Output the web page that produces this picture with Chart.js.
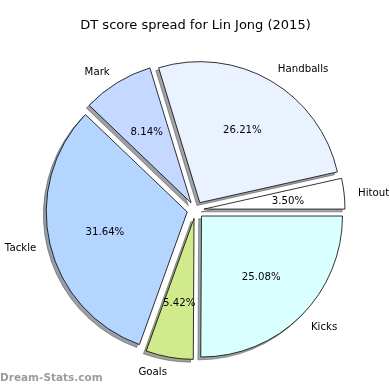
<!DOCTYPE html>
<html>
<head>
<meta charset="utf-8">
<script src="https://cdn.jsdelivr.net/npm/chart.js@4"></script>
<style>
  body { margin: 0; background: #fff; }
  canvas { display: block; }
</style>
</head>
<body>
<canvas id="myChart" width="390" height="390"></canvas>
<script>
// slice order follows the chart going clockwise from 3 o'clock
const categories = ["Kicks", "Goals", "Tackle", "Mark", "Handballs", "Hitout"];
const shares = [25.08, 5.42, 31.64, 8.14, 26.21, 3.5];
const sliceColors = ["#d9ffff", "#d1eb8c", "#b4d5ff", "#c5d8ff", "#eaf1ff", "#ffffff"];

const EXPLODE = 8.5;
const FONT = "'DejaVu Sans', sans-serif";

function shadowOf(hex) {
  var r = parseInt(hex.slice(1, 3), 16) * 0.3;
  var g = parseInt(hex.slice(3, 5), 16) * 0.3;
  var b = parseInt(hex.slice(5, 7), 16) * 0.3;
  return "rgba(" + Math.round(r) + "," + Math.round(g) + "," + Math.round(b) + ",0.5)";
}

// pull every slice outwards along its middle angle
const explodePlugin = {
  id: "explode",
  afterDatasetUpdate(chart, args) {
    args.meta.data.forEach(function (arc) {
      var mid = (arc.startAngle + arc.endAngle) / 2;
      arc.x += Math.cos(mid) * EXPLODE;
      arc.y += Math.sin(mid) * EXPLODE;
    });
  },
};

// grey drop shadow under the wedges
const shadowPlugin = {
  id: "pieShadow",
  beforeDatasetsDraw(chart) {
    var ctx = chart.ctx;
    chart.getDatasetMeta(0).data.forEach(function (arc, i) {
      ctx.save();
      ctx.translate(-2.8, 2.8);
      ctx.beginPath();
      ctx.moveTo(arc.x, arc.y);
      ctx.arc(arc.x, arc.y, arc.outerRadius, arc.startAngle, arc.endAngle);
      ctx.closePath();
      ctx.fillStyle = shadowOf(sliceColors[i]);
      ctx.strokeStyle = shadowOf(sliceColors[i]);
      ctx.lineWidth = 1;
      ctx.fill();
      ctx.stroke();
      ctx.restore();
    });
  },
};

// category names outside, percentages inside
const labelPlugin = {
  id: "sliceLabels",
  afterDatasetsDraw(chart) {
    var ctx = chart.ctx;
    ctx.save();
    ctx.font = "10.2px " + FONT;
    ctx.fillStyle = "#000";
    ctx.textBaseline = "middle";
    chart.getDatasetMeta(0).data.forEach(function (arc, i) {
      var mid = (arc.startAngle + arc.endAngle) / 2;
      var r = arc.outerRadius;
      var cx = Math.cos(mid), cy = Math.sin(mid);
      ctx.textAlign = cx > 0 ? "left" : "right";
      ctx.fillText(categories[i], arc.x + cx * r * 1.1, arc.y + cy * r * 1.1 + 1.2);
      ctx.textAlign = "center";
      ctx.fillText(shares[i].toFixed(2) + "%", arc.x + cx * r * 0.6, arc.y + cy * r * 0.6 + 1.2);
    });
    ctx.restore();
  },
  afterDraw(chart) {
    var ctx = chart.ctx;
    ctx.save();
    ctx.font = "bold 10.5px " + FONT;
    ctx.fillStyle = "#9c9c9c";
    ctx.textAlign = "left";
    ctx.textBaseline = "middle";
    ctx.fillText("Dream-Stats.com", 0, 378);
    ctx.restore();
  },
};

var ctx = document.getElementById("myChart").getContext("2d");
var myChart = new Chart(ctx, {
  type: "pie",
  data: {
    labels: categories,
    datasets: [
      {
        data: shares,
        backgroundColor: sliceColors,
        borderColor: "#000",
        borderWidth: 0.8,
      },
    ],
  },
  options: {
    responsive: false,
    animation: false,
    events: [],
    rotation: 90,
    radius: 141,
    layout: { padding: { left: 1, right: 0, top: 0, bottom: 3.6 } },
    plugins: {
      legend: { display: false },
      tooltip: { enabled: false },
      title: {
        display: true,
        text: "DT score spread for Lin Jong (2015)",
        color: "#000",
        font: { family: FONT, size: 13, weight: "normal", lineHeight: 1.2 },
        padding: { top: 18, bottom: 0 },
      },
    },
  },
  plugins: [explodePlugin, shadowPlugin, labelPlugin],
});
</script>
</body>
</html>
